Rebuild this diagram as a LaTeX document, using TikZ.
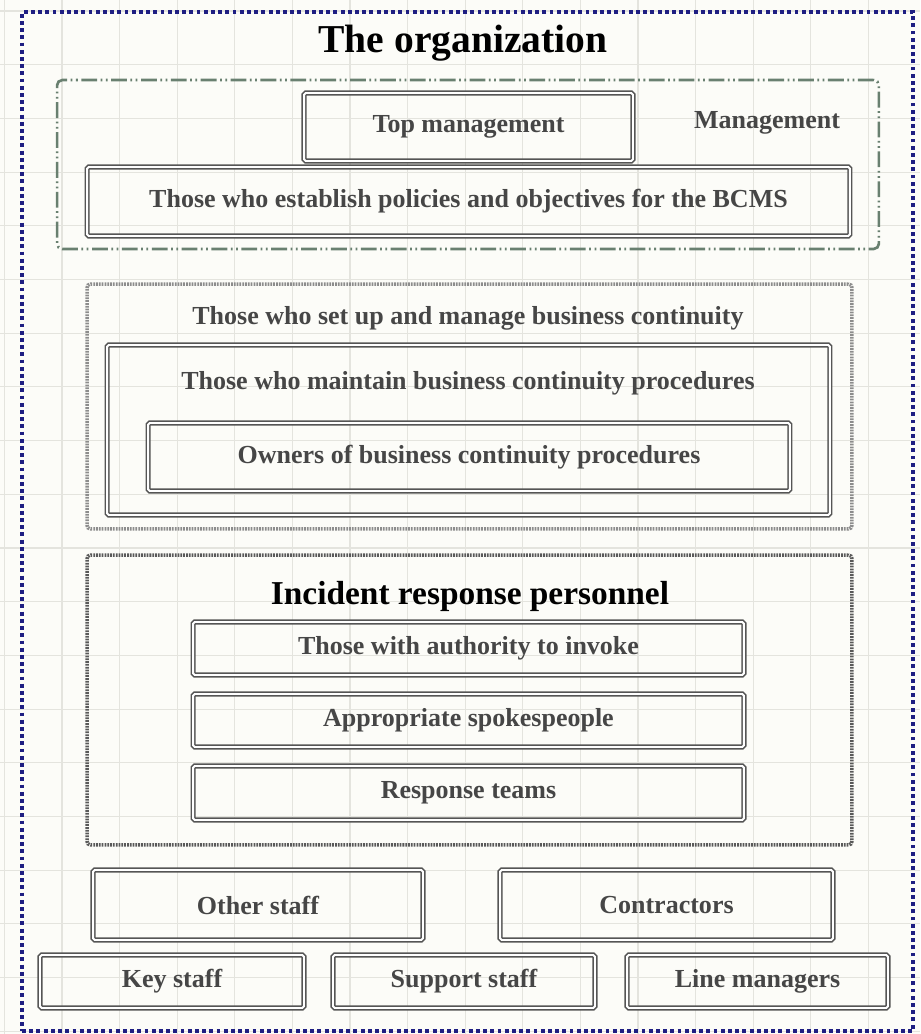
\documentclass[tikz,border=0pt]{standalone}
\usepackage{fontspec}
\setmainfont{Liberation Serif}
\usetikzlibrary{positioning}
\definecolor{OrgNavy}{RGB}{30,30,130}
\definecolor{MgmtGreen}{RGB}{105,128,112}
\definecolor{BoxGray}{RGB}{85,85,85}
\definecolor{TextGray}{RGB}{70,70,70}
\definecolor{GridGray}{RGB}{228,228,222}
\definecolor{PaperWhite}{RGB}{252,252,248}

\begin{document}
\begin{tikzpicture}[x=0.02cm, y=-0.02cm,
    box/.style={rectangle, rounded corners=1pt, draw=BoxGray, line width=0.9pt,
                double=white, double distance=1.1pt, inner sep=0pt,
                font=\fontsize{14.8}{16}\selectfont\bfseries, text=TextGray},
    section/.style={rectangle, rounded corners=2pt, line width=2pt,
                    dash pattern=on 1pt off 0.6pt, inner sep=0pt},
    lbl/.style={font=\fontsize{14.8}{16}\selectfont\bfseries, text=TextGray},
    headline/.style={font=\fontsize{19}{22}\selectfont\bfseries, text=black},
    gridline/.style={GridGray, line width=0.6pt}
  ]
  \useasboundingbox[fill=PaperWhite] (0,0) rectangle (920,1034);

  % grid
  \foreach \i in {0,...,15}
    \draw[gridline] ({4.4+57.6*\i},0) -- ({4.4+57.6*\i},1034);
  \foreach \j in {0,...,19}
    \draw[gridline] (0,{11+53.7*\j}) -- (920,{11+53.7*\j});

  % The organization
  \node[rectangle, draw=OrgNavy, line width=2.2pt, dash pattern=on 2.2pt off 1.9pt,
        minimum width=17.82cm, minimum height=20.38cm] (org) at (467.5,521.5) {};
  \node[font=\fontsize{22.5}{26}\selectfont\bfseries] (orgtitle) at (463,43)
        {The organization};

  % Management
  \node[rectangle, rounded corners=3pt, draw=MgmtGreen, line width=1.5pt,
        dash pattern=on 9pt off 2pt on 1pt off 2pt on 1pt off 2pt,
        minimum width=16.44cm, minimum height=3.38cm] (mgmt) at (468,164.5) {};
  \node[box, minimum width=6.58cm, minimum height=1.36cm] (top) at (468.5,127)
        {Top management};
  \node[lbl] (mgmtlbl) at (767,123) {Management};
  \node[box, minimum width=15.26cm, minimum height=1.38cm] (bcms) at (468.5,201.5)
        {Those who establish policies and objectives for the BCMS};

  % Business continuity
  \node[section, draw=black!45, minimum width=15.3cm, minimum height=4.9cm]
        (cont) at (469.5,406.5) {};
  \node[lbl] (contlbl) at (468,318) {Those who set up and manage business continuity};
  \node[box, minimum width=14.46cm, minimum height=3.4cm] (maint) at (468.5,430) {};
  \node[lbl] (maintlbl) at (468,383) {Those who maintain business continuity procedures};
  \node[box, minimum width=12.84cm, minimum height=1.36cm] (owners) at (469,457)
        {Owners of business continuity procedures};

  % Incident response
  \node[section, draw=black!65, minimum width=15.3cm, minimum height=5.8cm]
        (inc) at (469.5,700) {};
  \node[headline] (inclbl) at (470,596) {Incident response personnel};
  \node[box, minimum width=11.02cm, minimum height=1.06cm] (invoke) at (468.5,648.5)
        {Those with authority to invoke};
  \node[box, minimum width=11.02cm, minimum height=1.06cm] (spokes) at (468.5,720.5)
        {Appropriate spokespeople};
  \node[box, minimum width=11.02cm, minimum height=1.08cm] (teams) at (468.5,793)
        {Response teams};

  % Staff
  \node[box, minimum width=6.6cm, minimum height=1.4cm] (other) at (258,905)
        {Other staff};
  \node[box, minimum width=6.66cm, minimum height=1.4cm] (contr) at (666.5,905)
        {Contractors};
  \node[box, minimum width=5.28cm, minimum height=1.06cm] (key) at (172,981.5)
        {Key staff};
  \node[box, minimum width=5.24cm, minimum height=1.06cm] (support) at (464,981.5)
        {Support staff};
  \node[box, minimum width=5.22cm, minimum height=1.06cm] (linem) at (757.5,981.5)
        {Line managers};
\end{tikzpicture}
\end{document}
